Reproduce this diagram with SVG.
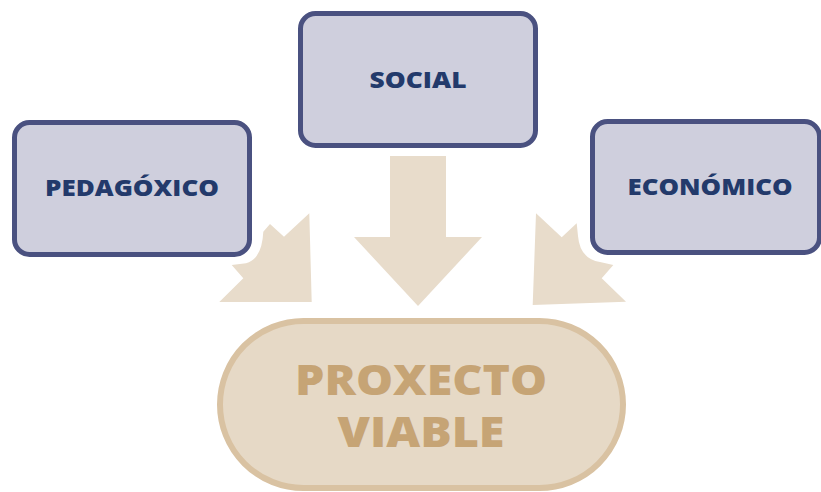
<svg xmlns="http://www.w3.org/2000/svg" width="821" height="492" viewBox="0 0 821 492">
<style>
.box{fill:#cfcfdd;stroke:#4a5180;stroke-width:5}
.lbl{font-family:"Open Sans","Liberation Sans",sans-serif;font-weight:800;font-size:23px;fill:#233a6b;text-anchor:middle}
.arr{fill:#e8dccb}
.pill{fill:#e6d9c6;stroke:#d9c2a2;stroke-width:6}
.big{font-family:"Open Sans","Liberation Sans",sans-serif;font-weight:800;font-size:42px;fill:#c6a475;text-anchor:middle}
</style>
<rect width="821" height="492" fill="#ffffff"/>
<g id="connectors">
<path class="arr" d="M390,156 L446,156 L446,237 L482,237 L418,306 L354,237 L390,237 Z"/>
<path class="arr" d="M309.3,213.3 L311.7,302 L219.3,302 L243.3,278.3 L231.7,265 L246,263.3 Q262,259 263.3,231.7 L270,224 L284,236.7 Z"/>
<path class="arr" d="M536,213.3 L561.7,237.3 L576.7,223.3 L578,236 Q580,259 600,262 L613.3,265 L601.7,278.3 L626,301.7 L532.7,305 Z"/>
</g>
<g id="pedagoxico">
<rect class="box" x="14.5" y="122.5" width="235" height="132" rx="15"/>
<text class="lbl" x="132" y="196" textLength="174" lengthAdjust="spacingAndGlyphs">PEDAGÓXICO</text>
</g>
<g id="social">
<rect class="box" x="300.5" y="13.5" width="235" height="132" rx="15"/>
<text class="lbl" x="418" y="88" textLength="97" lengthAdjust="spacingAndGlyphs">SOCIAL</text>
</g>
<g id="economico">
<rect class="box" x="592.5" y="121.5" width="227" height="131" rx="15"/>
<text class="lbl" x="710" y="195" textLength="165" lengthAdjust="spacingAndGlyphs">ECONÓMICO</text>
</g>
<g id="proxecto">
<rect class="pill" x="220" y="321" width="403" height="167" rx="83.5"/>
<text class="big" x="421" y="395" textLength="252" lengthAdjust="spacingAndGlyphs">PROXECTO</text>
<text class="big" x="421" y="447" textLength="167" lengthAdjust="spacingAndGlyphs">VIABLE</text>
</g>
</svg>
